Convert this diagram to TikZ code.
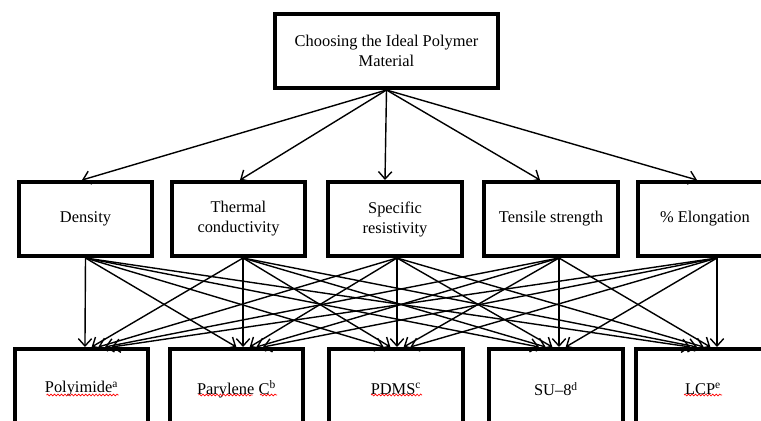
\documentclass[tikz,border=0pt]{standalone}
\usepackage{fontspec}
\setmainfont{Liberation Serif}
\usepackage{tikz}
\usetikzlibrary{arrows.meta}
\usetikzlibrary{decorations.pathmorphing}

\begin{document}
\begin{tikzpicture}
				[x=0.75pt,y=-0.75pt,every node/.style={inner sep=0pt},
				 font=\fontsize{12.3}{15}\selectfont,
				 box/.style={rectangle, draw=black, line width=3pt, minimum width=100pt, minimum height=55.5pt, align=center},
				 arr/.style={line width=1.05pt, color=black, -{Straight Barb[length=5.5pt,width=10pt]}},
				 spell/.style={red, line width=0.5pt, decorate, decoration={snake, amplitude=0.7pt, segment length=2.6pt}}]
				\path [use as bounding box, clip] (0,0) rectangle (761,421);
				\node (goal) [box, minimum width=167pt] at (386.5, 51) {Choosing the Ideal Polymer\\Material};
				\node (p1) [box] at (85.5, 219) {Density};
				\node (p2) [box] at (238.5, 219) {Thermal\\conductivity};
				\node (p3) [box] at (395, 219) {Specific\\resistivity};
				\node (p4) [box] at (551, 219) {Tensile strength};
				\node (p5) [box] at (705, 219) {\% Elongation};
				\node (m1) [box, minimum height=60pt] at (81.5, 389) {Polyimide\textsuperscript{a}};
				\node (m2) [box, minimum height=60pt] at (236.5, 389) {Parylene C\textsuperscript{b}};
				\node (m3) [box, minimum height=60pt] at (396, 389) {PDMS\textsuperscript{c}};
				\node (m4) [box, minimum height=60pt] at (556, 389) {SU–8\textsuperscript{d}};
				\node (m5) [box, minimum height=60pt] at (703, 389) {LCP\textsuperscript{e}};
				\draw [spell] ([shift={(-35,6)}]m1.center) -- ++(72,0);
				\draw [spell] ([shift={(-38,6)}]m2.center) -- ++(54,0);
				\draw [spell] ([shift={(23.5,6)}]m2.center) -- ++(17,0);
				\draw [spell] ([shift={(-25,6)}]m3.center) -- ++(51,0);
				\draw [spell] ([shift={(-19,6)}]m5.center) -- ++(38,0);
				\draw [arr] (goal.south) to ([xshift=-2.6pt]p1.north);
				\draw [arr] (goal.south) to ([xshift=1.1pt]p2.north);
				\draw [arr] (goal.south) to ([xshift=-7.5pt]p3.north);
				\draw [arr] (goal.south) to ([xshift=-8.25pt]p4.north);
				\draw [arr] (goal.south) to ([xshift=-6pt]p5.north);
				\draw [arr] ([xshift=0pt]p1.south) to ([xshift=2.6pt]m1.north);
				\draw [arr] ([xshift=0pt]p1.south) to ([xshift=-0.1pt]m2.north);
				\draw [arr] ([xshift=0pt]p1.south) to ([xshift=-9.25pt]m3.north);
				\draw [arr] ([xshift=0pt]p1.south) to ([xshift=-12.75pt]m4.north);
				\draw [arr] ([xshift=0pt]p1.south) to ([xshift=-9.5pt]m5.north);
				\draw [arr] ([xshift=3.4pt]p2.south) to ([xshift=7.6pt]m1.north);
				\draw [arr] ([xshift=3.4pt]p2.south) to ([xshift=4.9pt]m2.north);
				\draw [arr] ([xshift=3.4pt]p2.south) to ([xshift=-4.25pt]m3.north);
				\draw [arr] ([xshift=3.4pt]p2.south) to ([xshift=-7.75pt]m4.north);
				\draw [arr] ([xshift=3.4pt]p2.south) to ([xshift=-4.5pt]m5.north);
				\draw [arr] ([xshift=1.5pt]p3.south) to ([xshift=12.6pt]m1.north);
				\draw [arr] ([xshift=1.5pt]p3.south) to ([xshift=9.9pt]m2.north);
				\draw [arr] ([xshift=1.5pt]p3.south) to ([xshift=0.75pt]m3.north);
				\draw [arr] ([xshift=1.5pt]p3.south) to ([xshift=-2.75pt]m4.north);
				\draw [arr] ([xshift=1.5pt]p3.south) to ([xshift=0.5pt]m5.north);
				\draw [arr] ([xshift=6pt]p4.south) to ([xshift=17.6pt]m1.north);
				\draw [arr] ([xshift=6pt]p4.south) to ([xshift=14.9pt]m2.north);
				\draw [arr] ([xshift=6pt]p4.south) to ([xshift=5.75pt]m3.north);
				\draw [arr] ([xshift=6pt]p4.south) to ([xshift=2.25pt]m4.north);
				\draw [arr] ([xshift=6pt]p4.south) to ([xshift=5.5pt]m5.north);
				\draw [arr] ([xshift=9pt]p5.south) to ([xshift=22.6pt]m1.north);
				\draw [arr] ([xshift=9pt]p5.south) to ([xshift=19.9pt]m2.north);
				\draw [arr] ([xshift=9pt]p5.south) to ([xshift=10.75pt]m3.north);
				\draw [arr] ([xshift=9pt]p5.south) to ([xshift=7.25pt]m4.north);
				\draw [arr] ([xshift=9pt]p5.south) to ([xshift=10.5pt]m5.north);
		\end{tikzpicture}
\end{document}
